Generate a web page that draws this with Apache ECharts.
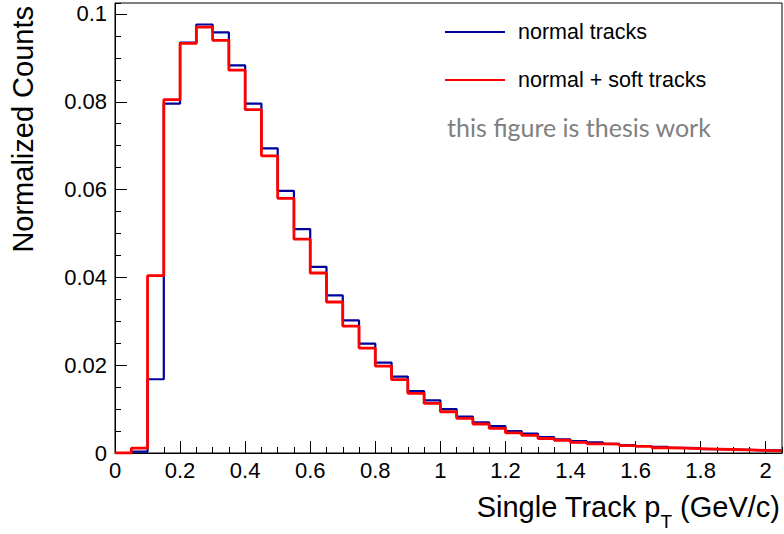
<!DOCTYPE html>
<html>
<head>
<meta charset="utf-8">
<script src="https://cdn.jsdelivr.net/npm/echarts@6/dist/echarts.min.js"></script>
<style>html,body{margin:0;padding:0;background:#fff;}#c{width:784px;height:534px;}</style>
</head>
<body>
<div id="c"></div>
<script>
// Bin lower edges (GeV/c), bin width 0.05
const binLow = [0.00,0.05,0.10,0.15,0.20,0.25,0.30,0.35,0.40,0.45,
                0.50,0.55,0.60,0.65,0.70,0.75,0.80,0.85,0.90,0.95,
                1.00,1.05,1.10,1.15,1.20,1.25,1.30,1.35,1.40,1.45,
                1.50,1.55,1.60,1.65,1.70,1.75,1.80,1.85,1.90,1.95,2.00];
const lastEdge = 2.05;
const normalTracks = [0,0.0003,0.0168,0.0796,0.0935,0.0976,0.0958,0.0883,0.0796,0.0694,
                      0.0597,0.0510,0.0424,0.0359,0.0302,0.0249,0.0206,0.0174,0.0141,0.0120,
                      0.0100,0.0083,0.0070,0.0061,0.0050,0.0044,0.0036,0.0031,0.0027,0.0024,
                      0.0021,0.0018,0.0016,0.0014,0.0012,0.0011,0.0009,0.0008,0.0007,0.0006,0.0006];
const softTracks   = [0,0.0011,0.0404,0.0805,0.0933,0.0970,0.0940,0.0872,0.0782,0.0677,
                      0.0580,0.0487,0.0410,0.0344,0.0289,0.0239,0.0198,0.0167,0.0136,0.0113,
                      0.0094,0.0079,0.0066,0.0056,0.0046,0.0040,0.0033,0.0029,0.0024,0.0021,
                      0.0020,0.0017,0.0015,0.0012,0.0011,0.0010,0.0009,0.0008,0.0007,0.0006,0.0005];
const seriesNames = ['normal tracks', 'normal + soft tracks'];
const noteText = 'this figure is thesis work';

function stepData(vals) {
  const d = binLow.map((x, i) => [x, vals[i]]);
  d.push([lastEdge, vals[vals.length - 1]]);
  return d;
}

const FONT = 'Liberation Sans, Arial, Helvetica, sans-serif';
const chart = echarts.init(document.getElementById('c'), null, {renderer: 'svg'});
chart.setOption({
  animation: false,
  backgroundColor: '#fff',
  grid: {left: 115, right: 2, top: 3, bottom: 81, show: true, borderColor: '#000', borderWidth: 1,
         containLabel: false, outerBoundsMode: 'none'},
  title: {
    text: noteText, left: 447, top: 114, padding: 0,
    textStyle: {fontSize: 25, fontWeight: 'normal', color: '#808080', fontFamily: 'Lato, Noto Sans, sans-serif'}
  },
  legend: {
    orient: 'vertical', left: 445, top: 21, padding: 0,
    icon: 'rect', itemWidth: 60, itemHeight: 2, itemGap: 26,
    data: seriesNames,
    textStyle: {fontSize: 21.5, color: '#000', fontFamily: FONT, lineHeight: 22, padding: [0, 0, 0, 8]}
  },
  xAxis: [{
    type: 'value', min: 0, max: lastEdge, interval: 0.2, position: 'bottom',
    axisLine: {show: true, lineStyle: {color: '#000', width: 1}},
    axisTick: {show: true, inside: true, length: 12, lineStyle: {color: '#000', width: 1}},
    axisLabel: {fontSize: 22, color: '#000', fontFamily: FONT, margin: 6, showMaxLabel: false},
    splitLine: {show: false},
    name: '{m|Single Track p}{s|T}{m| (GeV/c)}',
    nameLocation: 'end', nameGap: -2, nameMoveOverlap: false,
    nameTextStyle: {
      align: 'right', verticalAlign: 'top', padding: [39, 0, 0, 0],
      rich: {
        m: {fontSize: 29, lineHeight: 32, verticalAlign: 'top', color: '#000', fontFamily: FONT},
        s: {fontSize: 19, lineHeight: 19, verticalAlign: 'top', padding: [20, 0, 0, 0], color: '#000', fontFamily: FONT}
      }
    }
  }, {
    type: 'value', min: 0, max: lastEdge, interval: 0.05, position: 'bottom',
    axisLine: {show: false},
    axisTick: {show: true, inside: true, length: 6, lineStyle: {color: '#000', width: 1}},
    axisLabel: {show: false}, splitLine: {show: false}
  }],
  yAxis: [{
    type: 'value', min: 0, max: 0.1025, interval: 0.02, position: 'left',
    axisLine: {show: true, lineStyle: {color: '#000', width: 1}},
    axisTick: {show: true, inside: true, length: 12, lineStyle: {color: '#000', width: 1}},
    axisLabel: {fontSize: 22, color: '#000', fontFamily: FONT, margin: 8, showMaxLabel: false},
    splitLine: {show: false},
    name: 'Normalized Counts', nameLocation: 'end', nameGap: -3, nameRotate: 90, nameMoveOverlap: false,
    nameTextStyle: {fontSize: 29, lineHeight: 29, color: '#000', fontFamily: FONT, align: 'right', verticalAlign: 'bottom', padding: [0, 0, 78, 0]}
  }, {
    type: 'value', min: 0, max: 0.1025, interval: 0.005, position: 'left',
    axisLine: {show: false},
    axisTick: {show: true, inside: true, length: 6, lineStyle: {color: '#000', width: 1}},
    axisLabel: {show: false}, splitLine: {show: false}
  }],
  series: [{
    name: seriesNames[0], type: 'line', step: 'end', showSymbol: false, symbol: 'none',
    xAxisIndex: 0, yAxisIndex: 0, color: '#00009c',
    lineStyle: {color: '#00009c', width: 2.2}, data: stepData(normalTracks), z: 2
  }, {
    name: seriesNames[1], type: 'line', step: 'end', showSymbol: false, symbol: 'none',
    xAxisIndex: 0, yAxisIndex: 0, color: '#ff0000',
    lineStyle: {color: '#ff0000', width: 2.8}, data: stepData(softTracks), z: 3
  }]
});
</script>
</body>
</html>
